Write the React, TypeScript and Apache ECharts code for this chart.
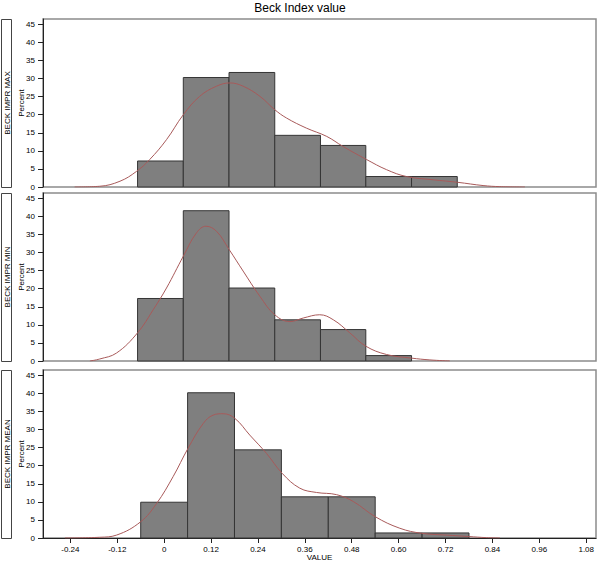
import React, { useEffect, useRef } from "react";
import * as echarts from "echarts";

const titleText = "Beck Index value";
const panelNames = ["BECK IMPR MAX", "BECK IMPR MIN", "BECK IMPR MEAN"];
const yTicks = [0, 5, 10, 15, 20, 25, 30, 35, 40, 45];
const xTicks = [-0.24, -0.12, 0, 0.12, 0.24, 0.36, 0.48, 0.6, 0.72, 0.84, 0.96, 1.08];
const xTickLabels = ["-0.24", "-0.12", "0", "0.12", "0.24", "0.36", "0.48", "0.60", "0.72", "0.84", "0.96", "1.08"];

// histogram bin edges and percents
const maxEdges = [-0.068, 0.049, 0.166, 0.283, 0.4, 0.516, 0.633, 0.75];
const maxPercent = [7.2, 30.3, 31.7, 14.3, 11.5, 2.9, 2.9];
const minEdges = [-0.068, 0.049, 0.166, 0.283, 0.4, 0.516, 0.633];
const minPercent = [17.3, 41.6, 20.2, 11.4, 8.7, 1.5];
const meanEdges = [-0.06, 0.06, 0.18, 0.3, 0.42, 0.54, 0.66, 0.78];
const meanPercent = [9.9, 40.2, 24.4, 11.4, 11.4, 1.4, 1.4];

// kernel density curves [value, percent]
const maxDensity = [
  [-0.229, 0], [-0.165, 0.2], [-0.113, 1.6], [-0.071, 4.3], [-0.037, 7.6], [0.006, 13.1],
  [0.049, 20.0], [0.091, 25.1], [0.134, 27.9], [0.168, 28.8], [0.202, 27.9], [0.245, 25.1],
  [0.283, 21.4], [0.313, 19.1], [0.364, 16.3], [0.416, 14.0], [0.458, 11.2], [0.518, 7.6],
  [0.569, 4.8], [0.62, 2.9], [0.688, 2.0], [0.751, 1.3], [0.816, 0.4], [0.859, 0.1], [0.923, 0],
];
const minDensity = [
  [-0.19, 0], [-0.165, 0.55], [-0.122, 2.2], [-0.068, 7.8], [-0.028, 14.2], [0.006, 20.2],
  [0.049, 29.0], [0.083, 35.5], [0.107, 37.3], [0.134, 35.9], [0.166, 30.9], [0.202, 24.9],
  [0.245, 17.9], [0.283, 12.8], [0.322, 10.9], [0.356, 11.9], [0.398, 12.8], [0.433, 11.4],
  [0.475, 7.8], [0.516, 4.1], [0.569, 1.8], [0.633, 0.8], [0.68, 0.3], [0.731, 0],
];
const meanDensity = [
  [-0.254, 0], [-0.165, 0.2], [-0.122, 0.8], [-0.06, 4.5], [-0.019, 9.6], [0.023, 17.0],
  [0.061, 24.8], [0.1, 31.7], [0.125, 34.0], [0.151, 34.4], [0.181, 33.1], [0.219, 28.5],
  [0.262, 23.4], [0.302, 17.9], [0.347, 13.8], [0.39, 12.6], [0.441, 12.0], [0.484, 10.1],
  [0.54, 5.9], [0.603, 2.7], [0.659, 1.3], [0.723, 0.8], [0.78, 0.4], [0.825, 0.1], [0.859, 0],
];

const panels = [
  { edges: maxEdges, pct: maxPercent, dens: maxDensity },
  { edges: minEdges, pct: minPercent, dens: minDensity },
  { edges: meanEdges, pct: meanPercent, dens: meanDensity },
];

const FONT = "Liberation Sans, Arial, sans-serif";
const gridTops = [19, 193, 370];
const gridH = 168;
const gridLeft = 43;
const gridW = 553;

export default function App() {
  const ref = useRef<HTMLDivElement>(null);
  useEffect(() => {
    if (!ref.current) return;
    const chart = echarts.init(ref.current, null, { renderer: "svg" });
    const grids = gridTops.map((t) => ({
      left: gridLeft,
      top: t,
      width: gridW,
      height: gridH,
      show: true,
      borderColor: "#8c8c8c",
      borderWidth: 1.5,
      containLabel: false,
    }));
    const xAxes = gridTops.map((_, i) => {
      const last = i === gridTops.length - 1;
      return {
        type: "value",
        gridIndex: i,
        min: -0.31,
        max: 1.105,
        splitLine: { show: false },
        axisLine: { show: last, onZero: false, lineStyle: { color: "#222", width: 1 } },
        axisTick: { show: last, length: 5, customValues: xTicks, lineStyle: { color: "#222" } },
        axisLabel: {
          show: last,
          customValues: xTicks,
          fontSize: 8,
          fontFamily: FONT,
          color: "#000",
          margin: 7,
          formatter: (v: number) => {
            const k = xTicks.findIndex((t) => Math.abs(t - v) < 1e-9);
            return k >= 0 ? xTickLabels[k] : "";
          },
        },
        name: last ? "VALUE" : "",
        nameLocation: "middle",
        nameGap: 15,
        nameMoveOverlap: false,
        nameTextStyle: { fontSize: 8, fontFamily: FONT, color: "#000" },
      };
    });
    const yAxes = gridTops.map((_, i) => ({
      type: "value",
      gridIndex: i,
      min: 0,
      max: 46.5,
      splitLine: { show: false },
      axisLine: { show: true, onZero: false, lineStyle: { color: "#222", width: 1 } },
      axisTick: { show: true, length: 5, customValues: yTicks, lineStyle: { color: "#222" } },
      axisLabel: {
        customValues: yTicks,
        fontSize: 8,
        fontFamily: FONT,
        color: "#000",
        margin: 8,
      },
      name: "Percent",
      nameLocation: "middle",
      nameRotate: 90,
      nameGap: 18,
      nameMoveOverlap: false,
      nameTextStyle: { fontSize: 8, fontFamily: FONT, color: "#000" },
    }));
    const series: any[] = [];
    panels.forEach((p, i) => {
      const data = p.pct.map((v, k) => [p.edges[k], p.edges[k + 1], v]);
      series.push({
        type: "custom",
        xAxisIndex: i,
        yAxisIndex: i,
        encode: { x: [0, 1], y: 2 },
        data,
        renderItem: (params: any, api: any) => {
          const p0 = api.coord([api.value(0), api.value(2)]);
          const p1 = api.coord([api.value(1), 0]);
          return {
            type: "rect",
            shape: { x: p0[0], y: p0[1], width: p1[0] - p0[0], height: p1[1] - p0[1] },
            style: { fill: "#7f7f7f", stroke: "#353535", lineWidth: 1 },
          };
        },
        z: 2,
      });
      series.push({
        type: "line",
        xAxisIndex: i,
        yAxisIndex: i,
        data: p.dens,
        smooth: 0.4,
        symbol: "none",
        lineStyle: { color: "#a85a5a", width: 1 },
        z: 3,
      });
    });
    const graphic: any[] = [];
    gridTops.forEach((t, i) => {
      graphic.push({
        type: "rect",
        shape: { x: 1.5, y: t + 0.5, width: 10, height: gridH },
        style: { fill: "#fff", stroke: "#444", lineWidth: 1 },
      });
      graphic.push({
        type: "text",
        x: 7,
        y: t + gridH / 2,
        rotation: Math.PI / 2,
        style: {
          text: panelNames[i],
          fontSize: 8,
          fontFamily: FONT,
          fill: "#000",
          align: "center",
          verticalAlign: "middle",
        },
      });
    });
    chart.setOption({
      animation: false,
      backgroundColor: "#fff",
      title: {
        text: titleText,
        left: "center",
        top: -3,
        textStyle: { fontSize: 12, fontWeight: "normal", fontFamily: FONT, color: "#000" },
      },
      grid: grids,
      xAxis: xAxes,
      yAxis: yAxes,
      series,
      graphic,
    });
    return () => chart.dispose();
  }, []);
  return (
    <div
      ref={ref}
      style={{ position: "absolute", left: 0, top: 0, width: 600, height: 565 }}
    />
  );
}
